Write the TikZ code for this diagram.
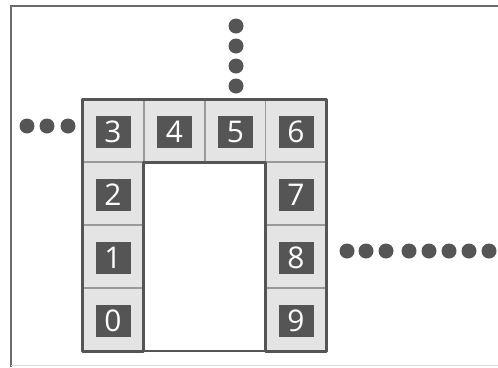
\documentclass[tikz,border=0pt]{standalone}
\usepackage{fontspec}
\setmainfont{Open Sans}
\definecolor{cellfill}{HTML}{E4E4E4}
\definecolor{darkg}{HTML}{555555}
\definecolor{midg}{HTML}{9A9A9A}
\definecolor{frameg}{HTML}{6A6A6A}
\begin{document}
\begin{tikzpicture}[x=1bp,y=-1bp,
  cell/.style={draw=midg,line width=1.2bp,fill=cellfill,minimum width=61bp,minimum height=63bp,inner sep=0pt,outer sep=0pt},
  numbox/.style={fill=darkg,text=white,minimum width=35bp,minimum height=32bp,inner sep=0pt,font=\fontsize{30}{30}\selectfont},
  dotc/.style={circle,fill=darkg,minimum size=15bp,inner sep=0pt}]
\useasboundingbox (0,0) rectangle (498,367);
\fill[white] (0,0) rectangle (498,367);
% frame
\draw[frameg,line width=2bp] (11,367) -- (11,6) -- (498,6);
\draw[black!15,line width=1bp] (11,365) -- (498,365);
% cells
\foreach \n/\x/\y in {3/113/130.5,4/174.5/130.5,5/235.5/130.5,6/296/130.5,
                      2/113/193.5,1/113/256.5,0/113/319.5,
                      7/296/193.5,8/296/256.5,9/296/319.5}{
  \node[cell] (c\n) at (\x,\y) {};
  \node[numbox] (b\n) at (\x,\y+1.5) {\n};
}
% outer and inner borders
\draw[darkg,line width=3bp,line join=round] (c3.north west) -- (c6.north east) -- (c9.south east) -- (c9.south west) -- (c7.north west) -- (c2.north east) -- (c0.south east) -- (c0.south west) -- cycle;
\draw[darkg,line width=2bp] (c0.south east) -- (c9.south west);
% dots
\foreach \i/\y in {1/26,2/46,3/66,4/86}{\node[dotc] (t\i) at (236,\y) {};}
\foreach \i/\x in {1/27,2/47,3/68}{\node[dotc] (l\i) at (\x,126) {};}
\foreach \i/\x in {1/347,2/366,3/386,4/409,5/429,6/449,7/469,8/489}{\node[dotc] (r\i) at (\x,251) {};}
\end{tikzpicture}
\end{document}
